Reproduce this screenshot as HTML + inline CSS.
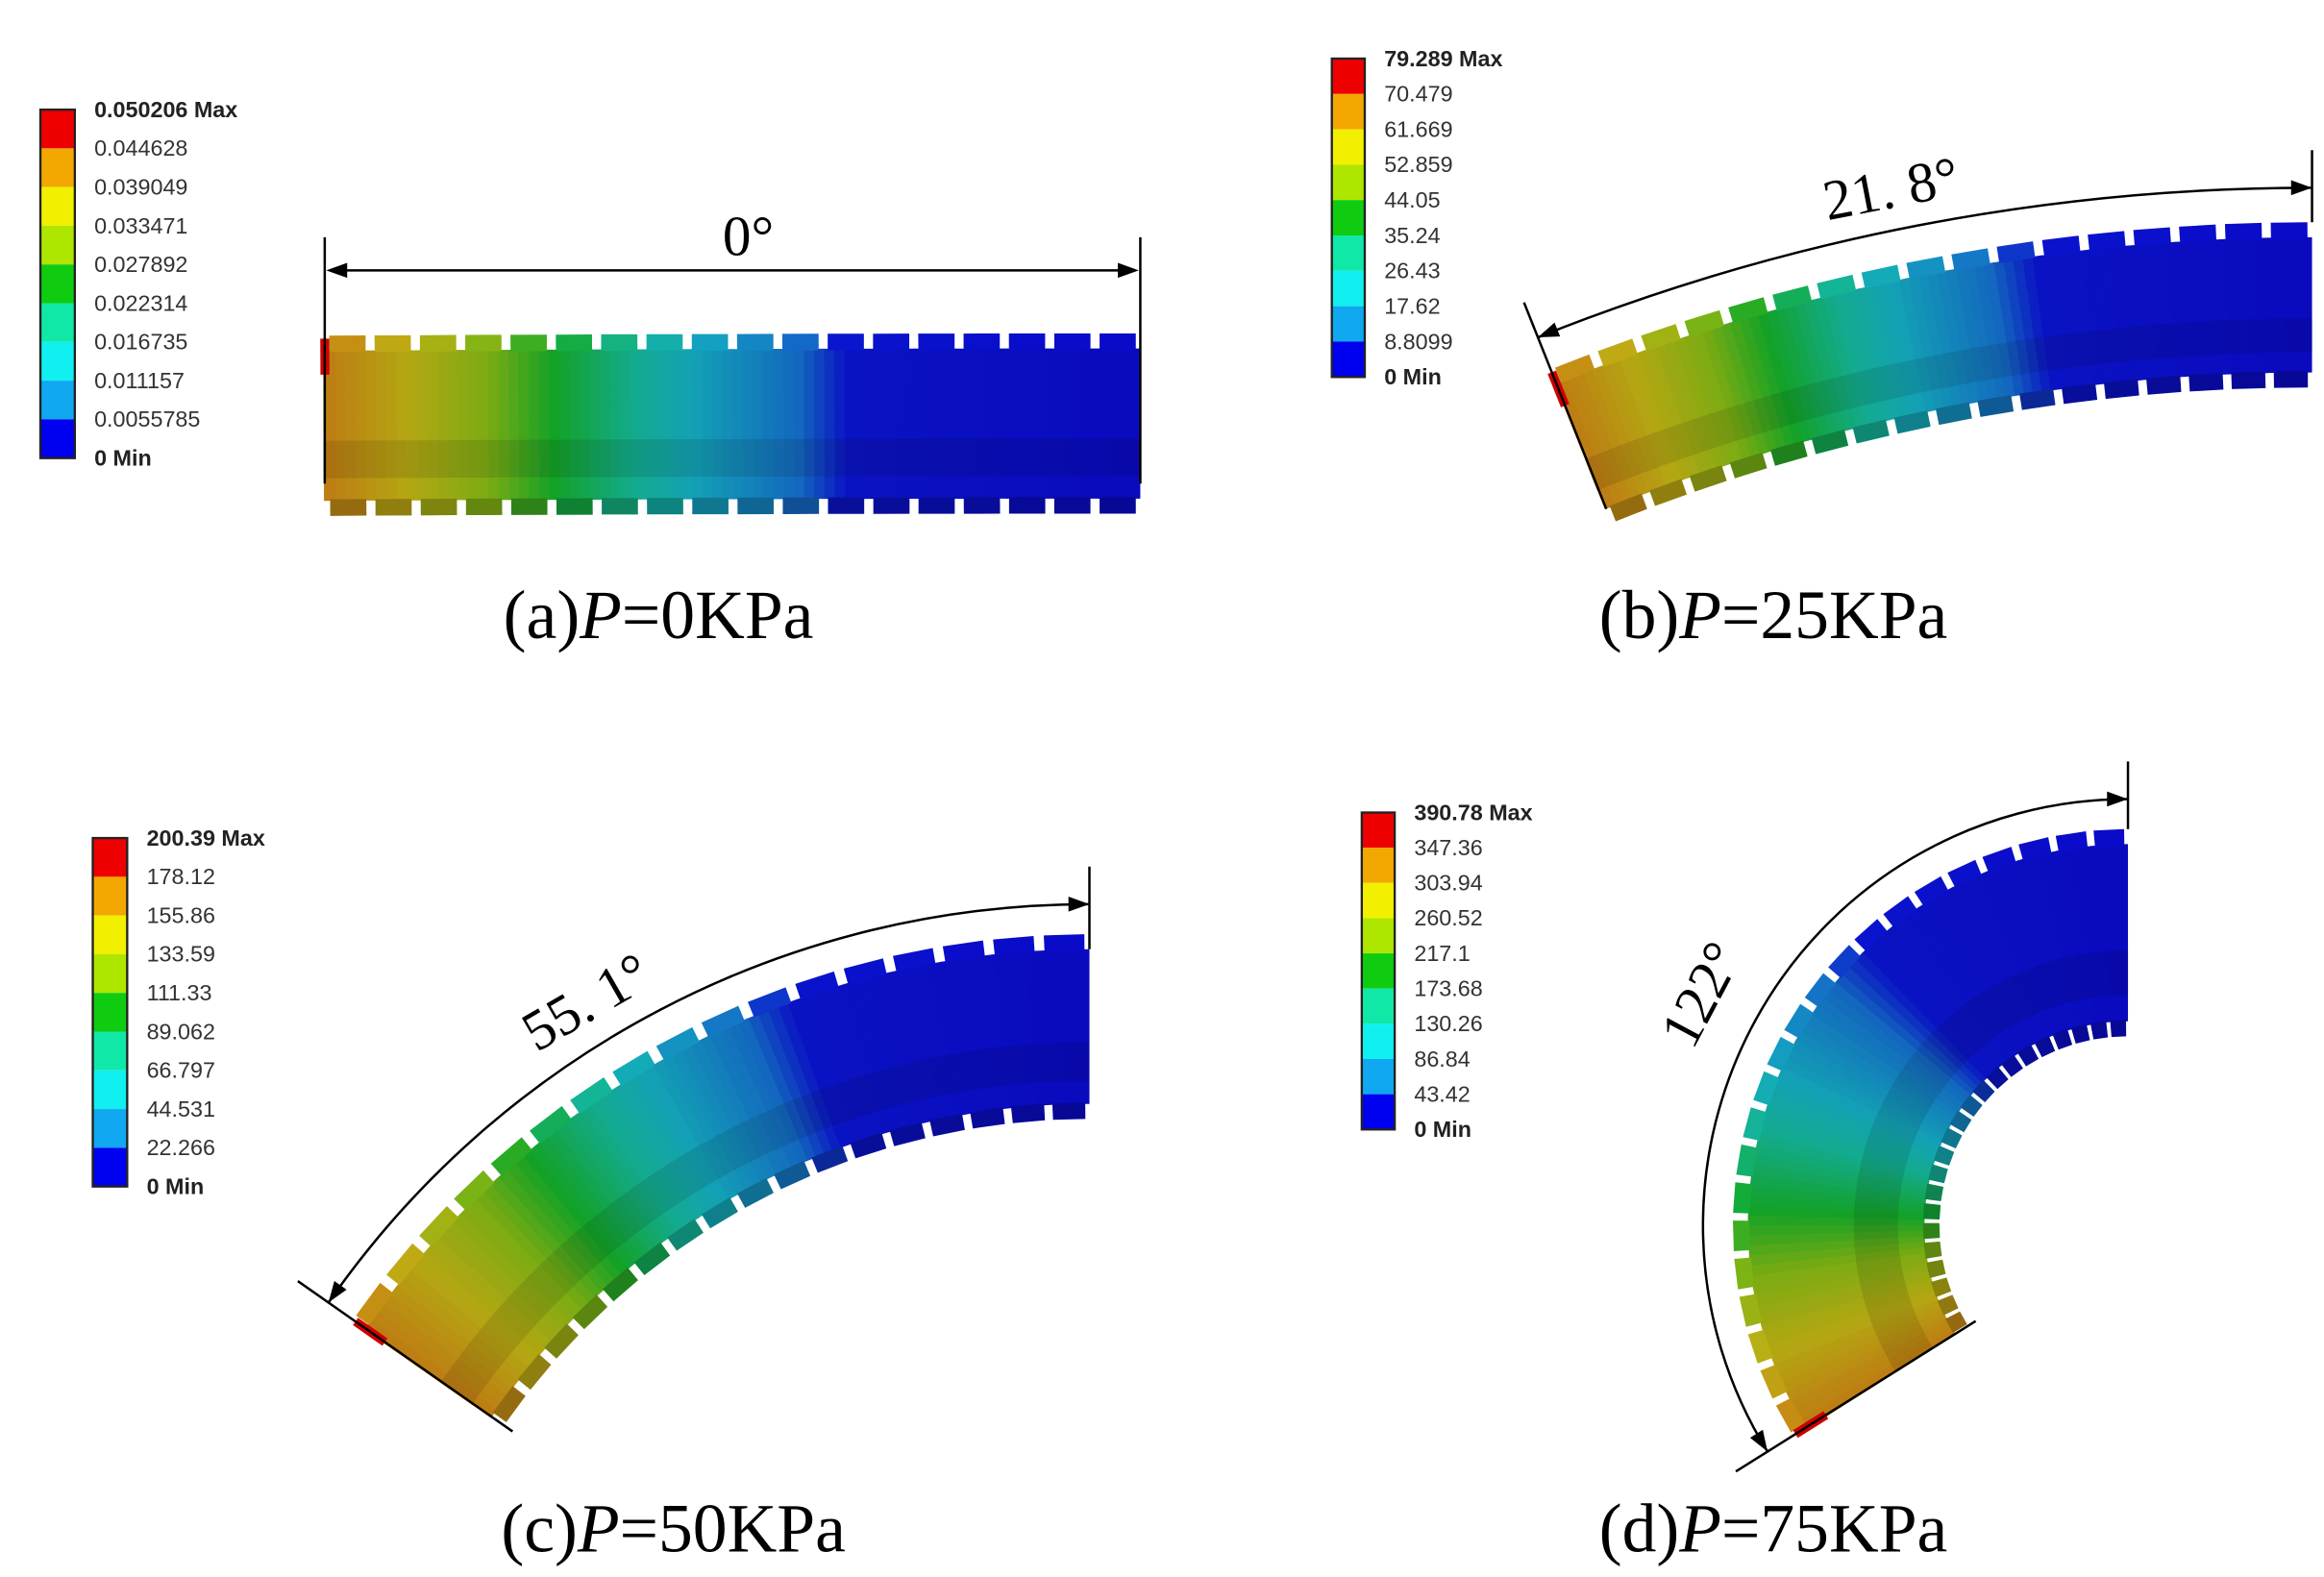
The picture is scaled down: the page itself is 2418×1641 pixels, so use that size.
<!DOCTYPE html>
<html><head><meta charset="utf-8"><style>
html,body{margin:0;padding:0;background:#fff}
svg{display:block}
.lg{font-family:"Liberation Sans","DejaVu Sans",sans-serif;font-size:15px;fill:#333}
.lgb{font-weight:bold;fill:#222}
.cap{font-family:"Liberation Serif",serif;font-size:46px;fill:#000}
.ang{font-family:"Liberation Serif",serif;font-size:38px;fill:#000}
</style></head><body>
<svg id="fig" width="2418" height="1641" viewBox="0 0 1553 1050" preserveAspectRatio="none" xmlns="http://www.w3.org/2000/svg">
<g id="layer-bodies"></g>
<g id="layer-legends"></g>
<g id="layer-ann" stroke="#000" fill="none" stroke-width="1.6"></g>
<g>
<text class="cap" x="440" y="425" text-anchor="middle">(a)<tspan font-style="italic">P</tspan>=0KPa</text>
<text class="cap" x="1185" y="425" text-anchor="middle">(b)<tspan font-style="italic">P</tspan>=25KPa</text>
<text class="cap" x="450" y="1033" text-anchor="middle">(c)<tspan font-style="italic">P</tspan>=50KPa</text>
<text class="cap" x="1185" y="1033" text-anchor="middle">(d)<tspan font-style="italic">P</tspan>=75KPa</text>
</g>
</svg>
<script>
const NS="http://www.w3.org/2000/svg";
const legendColors=["#ee0000","#f2a800","#f2f000","#aee600","#10cc10","#10e8a8","#10f0f0","#10a8f0","#0000f0"];
const legendA=["0.050206 Max","0.044628","0.039049","0.033471","0.027892","0.022314","0.016735","0.011157","0.0055785","0 Min"];
const legendB=["79.289 Max","70.479","61.669","52.859","44.05","35.24","26.43","17.62","8.8099","0 Min"];
const legendC=["200.39 Max","178.12","155.86","133.59","111.33","89.062","66.797","44.531","22.266","0 Min"];
const legendD=["390.78 Max","347.36","303.94","260.52","217.1","173.68","130.26","86.84","43.42","0 Min"];
function el(tag,attrs,parent){const e=document.createElementNS(NS,tag);for(const k in attrs)e.setAttribute(k,attrs[k]);parent.appendChild(e);return e;}
const LG=document.getElementById('layer-legends');
function legend(x,y,w,h,labels,id){
  const g=el('g',{},LG);
  
  
  const ch=h/9;
  legendColors.forEach((c,i)=>{
    const r=el('rect',{x:x,y:y+i*ch,width:w,height:ch,fill:c},g);
    
    
  });
  el('rect',{x:x,y:y,width:w,height:h,fill:'none',stroke:'#222','stroke-width':1.5},g);
  labels.forEach((t,i)=>{
    const tx=el('text',{x:x+w+13,y:y+i*ch+5,class:'lg'+((i==0||i==9)?' lgb':'')},g);
    tx.textContent=t;
    
    
  });
}
legend(27,73,23,232,legendA,'a');
legend(890,39,22,212,legendB,'b');
legend(62,558,23,232,legendC,'c');
legend(910,541,22,211,legendD,'d');

const stopT=[0,0.36,0.42,0.55,0.62,0.72,0.8,0.9,1];
const stopC=[[10,10,200],[10,20,205],[20,110,200],[20,170,190],[20,180,150],[20,170,40],[130,180,20],[190,175,20],[200,130,20]];
function col(t,k){let i=0;while(i<stopT.length-2&&t>stopT[i+1])i++;const f=(t-stopT[i])/(stopT[i+1]-stopT[i]);const c=stopC[i].map((v,j)=>Math.round((v+(stopC[i+1][j]-v)*f)*k));return 'rgb('+c.join(',')+')';}
const BG=document.getElementById('layer-bodies');
function P(cx,cy,r,a){return [cx-r*Math.sin(a),cy-r*Math.cos(a)];}
function quad(g,cx,cy,r1,r2,a1,a2,fill){const p=[P(cx,cy,r1,a1),P(cx,cy,r2,a1),P(cx,cy,r2,a2),P(cx,cy,r1,a2)];return el('polygon',{points:p.map(q=>q[0].toFixed(1)+','+q[1].toFixed(1)).join(' '),fill:fill},g);}
function body(id,cx,cy,Ro,Ri,theta,nTeeth){
  const g=el('g',{},BG);
  
  
  const N=80,to=10;
  for(let i=0;i<N;i++){const a1=theta*i/N,a2=theta*(i+1)/N+theta*0.002;const t=(i+0.5)/N;
    quad(g,cx,cy,Ri+to,Ro-to,a1,a2,col(t,0.95));
    quad(g,cx,cy,Ri+to+(Ro-Ri-2*to)*0.15,Ri+to+(Ro-Ri-2*to)*0.4,a1,a2,col(t,0.85));}
  for(let k=0;k<nTeeth;k++){const a1=theta*(k+0.1)/nTeeth,a2=theta*(k+0.9)/nTeeth;const t=(k+0.5)/nTeeth;
    quad(g,cx,cy,Ro-to-1,Ro,a1,a2,col(t,1));
    quad(g,cx,cy,Ri,Ri+to+1,a1,a2,col(t,0.75));}
  const b=[P(cx,cy,Ro-2,theta),P(cx,cy,Ro-26,theta)];
  el('line',{x1:b[0][0],y1:b[0][1],x2:b[1][0],y2:b[1][1],stroke:'#d00000','stroke-width':6},g);
}
body('a',762,222+100000,100000,100000-120,545/100000,18);
body('b',1545,1518,1370,1260,21.8*Math.PI/180,17);
body('c',728,1222,600,477,55.1*Math.PI/180,17);
body('d',1422,816,264,126,122*Math.PI/180,22);

const AN=document.getElementById('layer-ann');
function arrowHead(x,y,dx,dy){const L=Math.hypot(dx,dy);dx/=L;dy/=L;const s=14,w=5;
  el('polygon',{points:`${x},${y} ${x-dx*s-dy*w},${y-dy*s+dx*w} ${x-dx*s+dy*w},${y-dy*s-dx*w}`,fill:'#000',stroke:'none'},AN);}
el('line',{x1:217,y1:158,x2:217,y2:322},AN);
el('line',{x1:762,y1:158,x2:762,y2:322},AN);
el('line',{x1:222,y1:180,x2:757,y2:180},AN);
arrowHead(218,180,-1,0);arrowHead(761,180,1,0);
function arcAnn(cx,cy,R,theta,extIn,extOut,rTop){
  const th=theta*Math.PI/180;const p0=P(cx,cy,R,0),p1=P(cx,cy,R,th);
  el('path',{d:`M${p0[0]},${p0[1]} A${R},${R} 0 0 0 ${p1[0]},${p1[1]}`},AN);
  arrowHead(p0[0],p0[1],1,0);
  arrowHead(p1[0],p1[1],-Math.cos(th),Math.sin(th));
  const e1=P(cx,cy,R+extOut,th),e2=P(cx,cy,extIn,th);
  el('line',{x1:e1[0],y1:e1[1],x2:e2[0],y2:e2[1]},AN);
  el('line',{x1:cx,y1:cy-R-extOut,x2:cx,y2:cy-rTop},AN);
}
arcAnn(1545,1518,1393,21.8,1270,25,1370);
arcAnn(728,1222,620,55.1,470,25,590);
arcAnn(1422,816,284,122,120,25,264);
function angText(x,y,rot,t,id){const tx=el('text',{x:x,y:y,class:'ang','text-anchor':'middle',transform:`rotate(${rot} ${x} ${y})`},AN);tx.textContent=t;tx.setAttribute('stroke','none');tx.setAttribute('fill','#000');
  
  }
angText(500,170,0,'0°','a');
angText(1266,138,-11,'21. 8°','b');
angText(398,678,-30,'55. 1°','c');
angText(1148,668,-62,'122°','d');
</script>
</body></html>
